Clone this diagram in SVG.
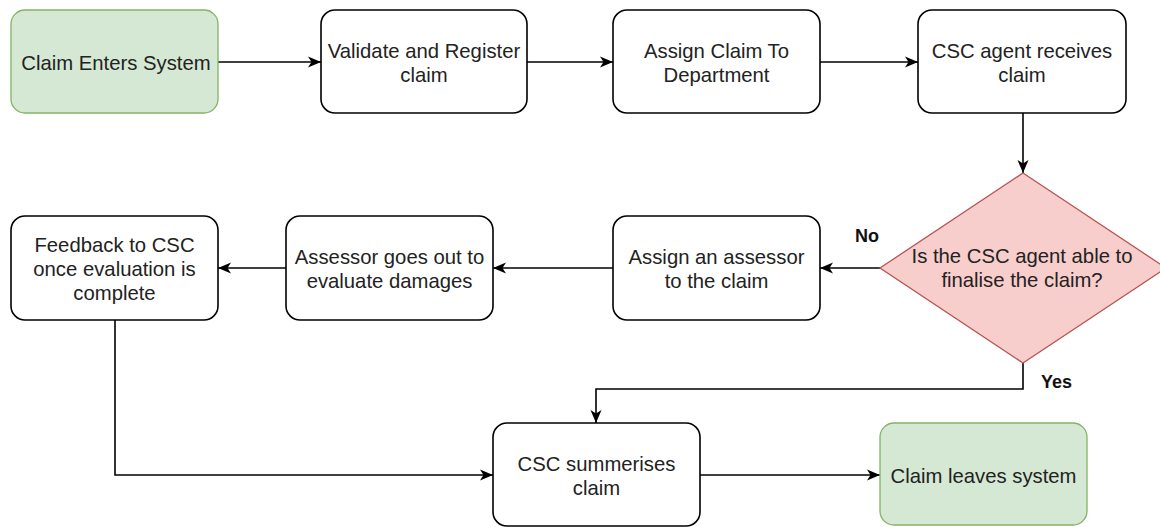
<svg xmlns="http://www.w3.org/2000/svg" width="1160" height="527" viewBox="0 0 1160 527">
  <defs>
    <marker id="arrow" markerUnits="userSpaceOnUse" markerWidth="14" markerHeight="12" refX="13" refY="6" orient="auto">
      <path d="M0,0.5 L13,6 L0,11.5 L3.5,6 Z" fill="#000"/>
    </marker>
    <style>
      .box { fill: #ffffff; stroke: #000000; stroke-width: 1.6; }
      .term { fill: #d5e8d4; stroke: #82b366; stroke-width: 1.3; }
      .decision { fill: #f8cecc; stroke: #b85450; stroke-width: 1.3; }
      .label { font-family: "Liberation Sans", Arial, sans-serif; font-size: 20.3px; fill: #222222; text-anchor: middle; }
      .edge-label { font-family: "Liberation Sans", Arial, sans-serif; font-size: 18px; font-weight: bold; fill: #111111; }
      .edge { fill: none; stroke: #000000; stroke-width: 1.6; marker-end: url(#arrow); }
    </style>
  </defs>
  <rect width="1160" height="527" fill="#ffffff"/>

  <g id="connectors">
    <path class="edge" d="M218,62 L321,62"/>
    <path class="edge" d="M527,62 L613,62"/>
    <path class="edge" d="M820,62 L918,62"/>
    <path class="edge" d="M1023,113 L1023,173"/>
    <path class="edge" d="M880,268 L820,268"/>
    <path class="edge" d="M613,268 L493,268"/>
    <path class="edge" d="M286,268 L218,268"/>
    <path class="edge" d="M115,320 L115,475 L493,475"/>
    <path class="edge" d="M1023,363 L1023,389 L596,389 L596,423"/>
    <path class="edge" d="M700,475 L880,475"/>
    <text class="edge-label" x="855" y="242">No</text>
    <text class="edge-label" x="1041" y="388">Yes</text>
  </g>

  <g id="claim-enters">
    <rect class="term" x="11" y="10" width="207" height="103" rx="14"/>
    <text class="label" x="116" y="70">Claim Enters System</text>
  </g>

  <g id="validate-register">
    <rect class="box" x="321" y="10" width="206" height="103" rx="14"/>
    <text class="label" x="424" y="58">Validate and Register</text>
    <text class="label" x="424" y="82">claim</text>
  </g>

  <g id="assign-department">
    <rect class="box" x="613" y="10" width="207" height="103" rx="14"/>
    <text class="label" x="716.5" y="58">Assign Claim To</text>
    <text class="label" x="716.5" y="82">Department</text>
  </g>

  <g id="agent-receives">
    <rect class="box" x="918" y="10" width="208" height="103" rx="14"/>
    <text class="label" x="1022" y="58">CSC agent receives</text>
    <text class="label" x="1022" y="82">claim</text>
  </g>

  <g id="agent-decision">
    <polygon class="decision" points="1023,173 1166,268 1023,363 880,268"/>
    <text class="label" x="1022" y="263">Is the CSC agent able to</text>
    <text class="label" x="1022" y="287">finalise the claim?</text>
  </g>

  <g id="assign-assessor">
    <rect class="box" x="613" y="216" width="207" height="104" rx="14"/>
    <text class="label" x="716.5" y="264">Assign an assessor</text>
    <text class="label" x="716.5" y="288">to the claim</text>
  </g>

  <g id="assessor-evaluates">
    <rect class="box" x="286" y="216" width="207" height="104" rx="14"/>
    <text class="label" x="389.5" y="264">Assessor goes out to</text>
    <text class="label" x="389.5" y="288">evaluate damages</text>
  </g>

  <g id="feedback">
    <rect class="box" x="11" y="216" width="207" height="104" rx="14"/>
    <text class="label" x="114.5" y="252">Feedback to CSC</text>
    <text class="label" x="114.5" y="276">once evaluation is</text>
    <text class="label" x="114.5" y="300">complete</text>
  </g>

  <g id="csc-summarises">
    <rect class="box" x="493" y="423" width="207" height="103" rx="14"/>
    <text class="label" x="596.5" y="471">CSC summerises</text>
    <text class="label" x="596.5" y="495">claim</text>
  </g>

  <g id="claim-leaves">
    <rect class="term" x="880" y="423" width="207" height="102" rx="14"/>
    <text class="label" x="983.5" y="483">Claim leaves system</text>
  </g>
</svg>
